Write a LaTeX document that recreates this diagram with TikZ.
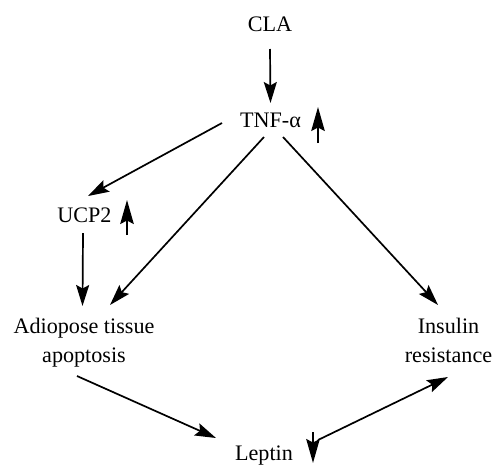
\documentclass[tikz,border=0pt]{standalone}
\usepackage{fontspec}
\setmainfont{Liberation Serif}
\usepackage{tikz}
\usetikzlibrary{arrows.meta}

\tikzset{
  label/.style={inner sep=0pt,align=center,font=\fontsize{12.6pt}{16.5pt}\selectfont},
  flow/.style={line width=0.034cm,-{Stealth[length=0.42cm,width=0.26cm,inset=0.07cm]}},
  trend/.style={line width=0.034cm,-{Stealth[length=0.48cm,width=0.27cm,inset=0.07cm]}}
}

\begin{document}
\begin{tikzpicture}

\useasboundingbox (0cm,0cm) rectangle (9.88cm,9.28cm);

\node [label] (cla) at (5.40cm,8.79cm) {CLA};
\node [label] (tnf) at (5.41cm,6.87cm) {TNF-α};
\node [label] (ucp2) at (1.69cm,4.97cm) {UCP2};
\node [label] (adipose) at (1.68cm,2.43cm) {Adiopose tissue\\apoptosis};
\node [label] (insulin) at (8.97cm,2.48cm) {Insulin\\resistance};
\node [label] (leptin) at (5.28cm,0.16cm) {Leptin};

\draw [flow] ([shift={(0cm,-0.49cm)}]cla.center) -- ([shift={(0cm,0.35cm)}]tnf.center);
\draw [flow] ([shift={(-0.97cm,-0.05cm)}]tnf.center) -- ([shift={(0.07cm,0.39cm)}]ucp2.center);
\draw [flow] ([shift={(-0.13cm,-0.33cm)}]tnf.center) -- ([shift={(0.52cm,0.75cm)}]adipose.center);
\draw [flow] ([shift={(0.25cm,-0.33cm)}]tnf.center) -- ([shift={(-0.21cm,0.70cm)}]insulin.center);
\draw [flow] ([shift={(-0.03cm,-0.35cm)}]ucp2.center) -- ([shift={(-0.03cm,0.73cm)}]adipose.center);
\draw [flow] ([shift={(-0.14cm,-0.67cm)}]adipose.center) -- ([shift={(-0.96cm,0.36cm)}]leptin.center);
\draw [flow] ([shift={(1.08cm,0.32cm)}]leptin.center) -- ([shift={(-0.01cm,-0.74cm)}]insulin.center);

% up / down markers
\draw [trend] (6.36cm,6.42cm) -- (6.36cm,7.14cm);
\draw [trend] (2.54cm,4.58cm) -- (2.54cm,5.28cm);
\draw [trend] (6.26cm,0.64cm) -- (6.26cm,0.02cm);

\end{tikzpicture}
\end{document}
